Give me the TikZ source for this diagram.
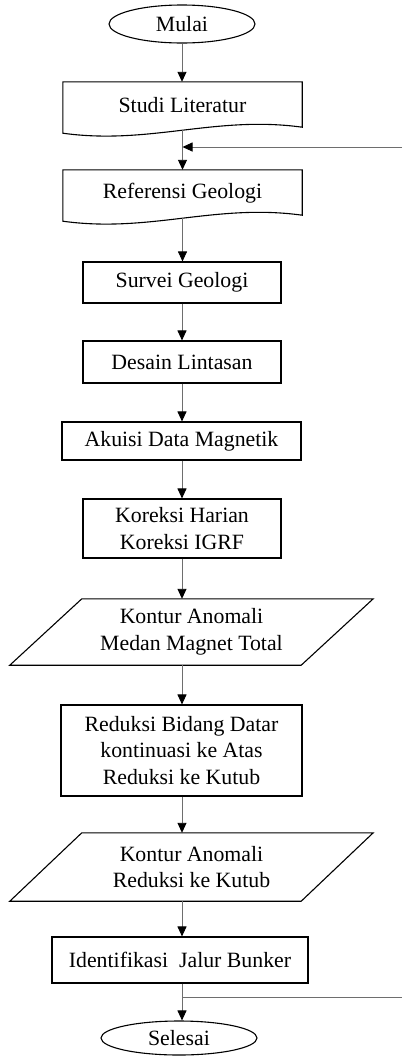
\documentclass[tikz,border=0pt]{standalone}
\usepackage{fontspec}
\setmainfont{Liberation Serif}
\usetikzlibrary{arrows.meta,shapes.geometric}
\definecolor{conncol}{RGB}{110,110,110}
\begin{document}
\begin{tikzpicture}[x=1pt,y=-1pt,
  every node/.style={font=\fontsize{21.8pt}{26.5pt}\selectfont, inner sep=0pt, align=center},
  box/.style={draw=black, line width=1.1pt, rectangle},
  term/.style={draw=black, line width=1.1pt, ellipse},
  shapeline/.style={draw=black, line width=1.1pt, line join=miter},
  conn/.style={draw=conncol, line width=0.9pt},
  arr/.style={conn, -{Triangle[length=10pt,width=9pt,color=black]}}
]
\useasboundingbox (0,0) rectangle (402,1058);

\node[term, minimum width=146pt, minimum height=38pt] (mulai) at (182,24) {Mulai};
\node[minimum width=239pt, minimum height=46pt] (studi) at (182.5,105) {Studi Literatur};
\node[minimum width=239pt, minimum height=46pt] (ref) at (182.5,193) {Referensi Geologi};
\node[box, minimum width=198pt, minimum height=41pt] (survei) at (182,282.5) {Survei Geologi};
\node[box, minimum width=198pt, minimum height=42pt] (desain) at (182,362) {Desain Lintasan};
\node[box, minimum width=239pt, minimum height=38pt] (akuisi) at (181.5,441) {Akuisi Data Magnetik};
\node[box, minimum width=198pt, minimum height=59pt] (koreksi) at (182,528.5) {Koreksi Harian\\Koreksi IGRF};
\node[minimum width=363pt, minimum height=66pt] (k1) at (191.5,632) {Kontur Anomali\\Medan Magnet Total};
\node[box, minimum width=241pt, minimum height=91pt] (reduksi) at (181.5,750.5) {Reduksi Bidang Datar\\kontinuasi ke Atas\\Reduksi ke Kutub};
\node[minimum width=363pt, minimum height=68pt] (k2) at (191.5,867) {Kontur Anomali\\Reduksi ke Kutub};
\node[box, minimum width=256pt, minimum height=46pt] (ident) at (180,960) {Identifikasi\ \ Jalur Bunker};
\node[term, minimum width=156pt, minimum height=34pt] (selesai) at (179,1038) {Selesai};

% document shapes
\draw[shapeline] (studi.north west) -- ([yshift=-5pt]studi.south west)
  .. controls ([shift={(87pt,-17pt)}]studi.south west) and ([shift={(-87pt,13pt)}]studi.south east)
  .. ([yshift=1pt]studi.south east) coordinate[pos=0.5] (studib)
  -- (studi.north east) -- cycle;
\draw[shapeline] (ref.north west) -- ([yshift=-5pt]ref.south west)
  .. controls ([shift={(87pt,-17pt)}]ref.south west) and ([shift={(-87pt,13pt)}]ref.south east)
  .. ([yshift=1pt]ref.south east) coordinate[pos=0.5] (refb)
  -- (ref.north east) -- cycle;

% parallelograms
\draw[shapeline] ([xshift=72pt]k1.north west) -- (k1.north east) -- ([xshift=-72pt]k1.south east) -- (k1.south west) -- cycle;
\draw[shapeline] ([xshift=72pt]k2.north west) -- (k2.north east) -- ([xshift=-72pt]k2.south east) -- (k2.south west) -- cycle;

% connectors
\draw[arr] (mulai.south) -- (mulai.south |- studi.north);
\draw[arr] (studib) -- (studib |- ref.north);
\draw[arr] (refb) -- (refb |- survei.north);
\draw[arr] (survei.south) -- (desain.north);
\draw[arr] (desain.south) -- (desain.south |- akuisi.north);
\draw[arr] (akuisi.south -| koreksi.north) -- (koreksi.north);
\draw[arr] (koreksi.south) -- (koreksi.south |- k1.north);
\draw[arr] (koreksi.south |- k1.south) -- (koreksi.south |- reduksi.north);
\draw[arr] (koreksi.south |- reduksi.south) -- (koreksi.south |- k2.north);
\draw[arr] (koreksi.south |- k2.south) -- (koreksi.south |- ident.north);
\draw[arr] (koreksi.south |- ident.south) -- (koreksi.south |- selesai.north);

% feedback lines
\coordinate (fbin) at (402,147);
\coordinate (fbout) at (402,997);
\draw[arr] (fbin) -- (fbin -| studib);
\draw[conn] (fbout -| koreksi.south) -- (fbout);
\end{tikzpicture}
\end{document}
